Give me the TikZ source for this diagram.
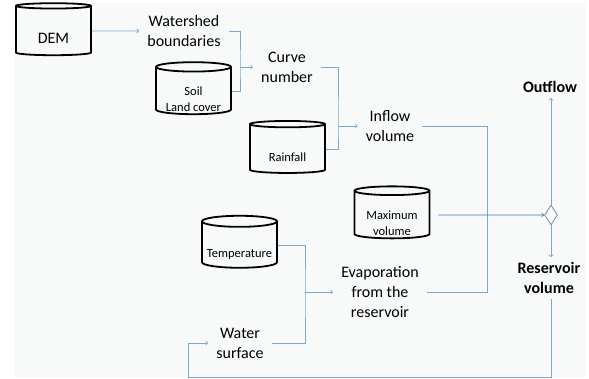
\documentclass[tikz,border=0pt]{standalone}
\usepackage{fontspec}
\setmainfont{Carlito}
\usetikzlibrary{shapes.geometric}

\definecolor{flowblue}{RGB}{125,168,202}
\definecolor{maxblue}{RGB}{62,122,180}
\definecolor{gatecol}{RGB}{130,150,172}
\definecolor{paper}{RGB}{248,250,250}

% store text sits in the body, under the lid
\newcommand\lidtext[1]{\raisebox{-9pt}[\height][\depth]{\begin{tabular}{@{}c@{}}#1\end{tabular}}}

\tikzset{
  store/.style={cylinder, shape border rotate=90, draw=black, line width=1.8pt,
    aspect=0.17, minimum width=75pt, minimum height=52pt, inner sep=0pt,
    font=\fontsize{12.5}{16}\selectfont},
  flow/.style={align=center, inner sep=8pt, font=\fontsize{16}{20}\selectfont},
  result/.style={flow, inner sep=5pt, font=\bfseries\fontsize{16}{20}\selectfont},
  link/.style={draw=flowblue, line width=0.8pt},
}

\begin{document}
\begin{tikzpicture}[x=1pt, y=1pt]
  \useasboundingbox (0,0) rectangle (589,379);
  \fill[paper] (15,2) rectangle (585,376);

  % input data
  \node[store, font=\fontsize{16}{20}\selectfont] (dem) at (53.5,348) {\lidtext{DEM}};
  \node[store] (soil) at (193.5,288) {\lidtext{Soil\\Land cover}};
  \node[store] (rain) at (287.5,230) {\lidtext{Rainfall}};
  \node[store] (maxvol) at (392,164) {\lidtext{Maximum\\volume}};
  \node[store] (temp) at (239.5,134) {\lidtext{Temperature}};

  % computed quantities
  \node[flow] (shed) at (184,348) {Watershed\\boundaries};
  \node[flow] (curve) at (287,312) {Curve\\number};
  \node[flow] (inflow) at (390,253) {Inflow\\volume};
  \node[flow] (evap) at (380,87) {Evaporation\\from the\\reservoir};
  \node[flow] (water) at (240,36) {Water\\surface};
  \node[result] (out) at (550,292) {Outflow};
  \node[result] (res) at (549,101) {Reservoir\\volume};
  \node[diamond, draw=gatecol, line width=0.9pt, aspect=0.65, minimum width=13pt,
    minimum height=20pt, inner sep=0pt] (gate) at (551,164) {};

  % junctions
  \coordinate (j1) at (240,312);
  \coordinate (j2) at (338,253);
  \coordinate (j3) at (487,164);
  \coordinate (j4) at (305,87);
  \coordinate (j5) at (188,2);

  \draw[link, ->] (dem.east) -- (shed.west);
  \draw[link] (shed.east) -| (j1) |- (soil.east);
  \draw[link, ->] (j1) -- (curve.west);
  \draw[link] (curve.east) -| (j2) |- (rain.east);
  \draw[link, ->] (j2) -- (inflow.west);
  \draw[link] (inflow.east) -| (j3);
  \draw[link] (evap.east) -| (j3);
  \draw[link] (temp.east) -| (j4) |- (water.east);
  \draw[link, ->] (j4) -- (evap.west);
  \draw[link, draw=maxblue, shorten <=8pt, ->] (maxvol.east) -- (gate.west);
  \draw[link, ->] (gate.north) -- (gate.north |- out.south);
  \draw[link, ->] (gate.south) -- (gate.south |- res.north);
  \draw[link, ->] (gate.south |- res.south) |- (j5) |- (water.west);
\end{tikzpicture}
\end{document}
